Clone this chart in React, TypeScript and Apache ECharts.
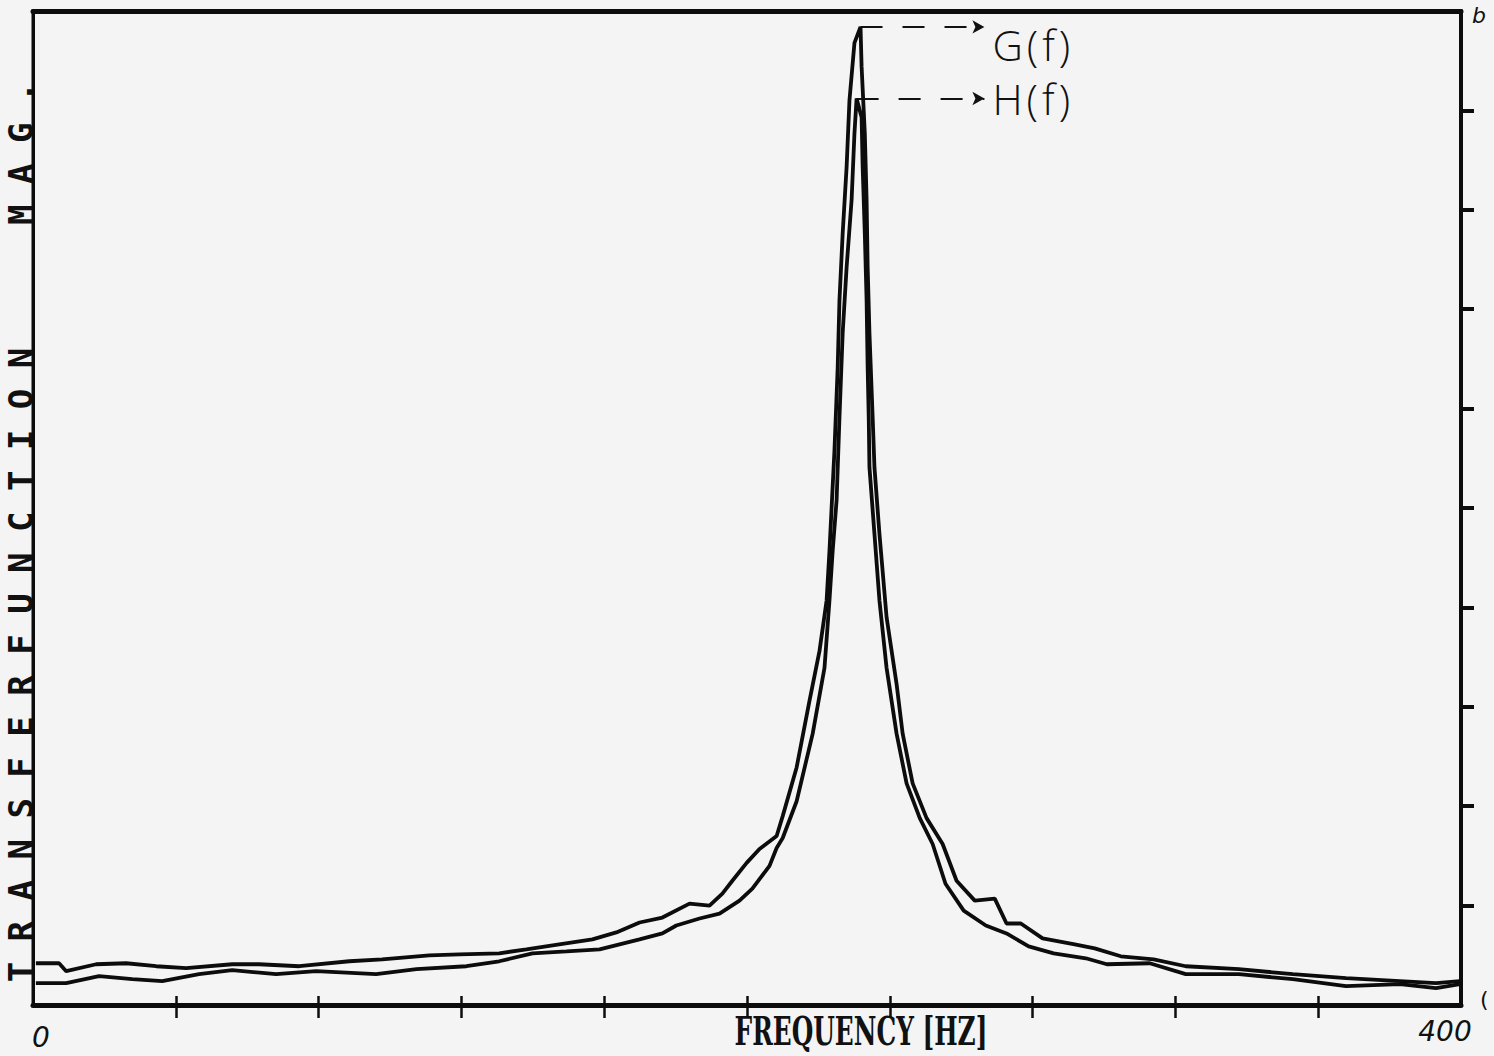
import React, { useEffect, useRef } from "react";
import * as echarts from "echarts";

// Frequency axis (Hz)
const xTickValues = [40, 80, 120, 160, 200, 240, 280, 320, 360];
const xLabelValues = [0, 400];
const yTickValues = [1, 2, 3, 4, 5, 6, 7, 8, 9];

// G(f) – higher peak
const gFreq = [0.8, 7.3, 9.3, 17.7, 26.1, 34.5, 42.9, 55.8, 63.3, 74.6, 88.6, 97.8, 111.0, 119.4, 130.6, 138.2, 147.4, 156.7, 163.4, 169.9, 176.3, 183.9, 189.5, 193.1, 195.9, 199.9, 203.5, 208.3, 210.0, 213.9, 217.5, 220.3, 222.3, 223.1, 224.5, 225.4, 225.9, 226.8, 227.9, 228.7, 230.1, 231.8, 232.1, 233.0, 233.5, 233.8, 234.3, 235.2, 235.7, 237.1, 239.1, 241.9, 243.6, 246.4, 250.3, 254.8, 258.7, 263.8, 269.4, 272.7, 276.7, 282.8, 291.8, 297.4, 304.7, 313.9, 322.9, 337.8, 352.9, 367.8, 382.9, 393.0, 399.7];
const gMag = [0.42, 0.42, 0.34, 0.41, 0.42, 0.39, 0.37, 0.41, 0.41, 0.39, 0.44, 0.46, 0.50, 0.51, 0.52, 0.56, 0.61, 0.66, 0.73, 0.83, 0.88, 1.02, 1.00, 1.12, 1.25, 1.43, 1.57, 1.70, 1.90, 2.39, 3.06, 3.56, 4.07, 4.57, 5.58, 6.41, 7.09, 7.76, 8.43, 9.10, 9.68, 9.84, 9.44, 8.77, 8.10, 7.42, 6.76, 5.91, 5.41, 4.74, 3.90, 3.23, 2.73, 2.23, 1.88, 1.62, 1.25, 1.05, 1.07, 0.82, 0.82, 0.67, 0.61, 0.57, 0.49, 0.46, 0.39, 0.36, 0.31, 0.27, 0.24, 0.22, 0.24];

// H(f) – lower peak
const hFreq = [0.8, 9.3, 18.5, 27.8, 36.2, 46.5, 55.8, 68.1, 79.3, 96.1, 107.4, 121.4, 130.6, 139.9, 149.4, 158.7, 169.9, 176.3, 180.2, 186.7, 192.3, 197.9, 201.5, 206.3, 208.3, 210.0, 213.9, 218.4, 221.7, 223.1, 224.0, 225.1, 225.9, 226.8, 227.9, 229.3, 230.1, 230.7, 232.1, 232.4, 233.0, 233.5, 233.8, 234.1, 234.3, 235.7, 237.1, 239.1, 241.9, 244.7, 248.4, 252.0, 255.6, 260.7, 266.9, 272.7, 278.9, 285.9, 294.9, 300.8, 312.8, 322.9, 337.8, 352.9, 367.8, 382.9, 393.0, 399.7];
const hMag = [0.22, 0.22, 0.29, 0.26, 0.24, 0.31, 0.35, 0.31, 0.34, 0.31, 0.36, 0.39, 0.44, 0.52, 0.54, 0.56, 0.66, 0.72, 0.80, 0.87, 0.92, 1.05, 1.17, 1.40, 1.58, 1.68, 2.05, 2.73, 3.39, 4.07, 4.57, 5.08, 5.91, 6.76, 7.42, 8.10, 8.77, 9.12, 8.93, 8.43, 7.76, 7.09, 6.41, 5.91, 5.41, 4.74, 4.07, 3.39, 2.73, 2.23, 1.88, 1.62, 1.22, 0.95, 0.80, 0.72, 0.59, 0.52, 0.47, 0.41, 0.42, 0.31, 0.31, 0.26, 0.19, 0.21, 0.17, 0.21];

const arrowEndFreq = 266.5;
const xTitle = "FREQUENCY [HZ]";
const yTitle = "T R A N S F E R F U N C T I O N      M A G .";

const INK = "#0c0c0c";
const BG = "#f4f4f4";

function peakIndex(arr: number[]) {
  let k = 0;
  arr.forEach((v, i) => {
    if (v > arr[k]) k = i;
  });
  return k;
}

// spaced hand-lettering: each character becomes its own rich token
function spaced(txt: string) {
  return txt
    .split("")
    .map((c) => `{c|${c}}`)
    .join("");
}

function buildOption() {
  const gp = peakIndex(gMag);
  const hp = peakIndex(hMag);
  const markLabel = (txt: string, dy: number) => ({
    show: true,
    position: "end",
    formatter: spaced(txt),
    distance: 6,
    offset: [0, dy],
    rich: {
      c: {
        color: "#111",
        fontFamily: "Open Sans",
        fontWeight: 300,
        fontSize: 42,
        padding: [0, 2, 0, 2],
      },
    },
  });
  const markLineStyle = { color: "#111", width: 2.2, type: [22, 20] };

  const baseAxis = {
    type: "value",
    min: 0,
    max: 400,
    interval: 40,
    splitLine: { show: false },
  };

  return {
    animation: false,
    backgroundColor: BG,
    grid: {
      left: 33,
      right: 33,
      top: 11,
      bottom: 51,
      show: true,
      borderColor: INK,
      borderWidth: 3,
      backgroundColor: "transparent",
    },
    xAxis: [
      {
        ...baseAxis,
        position: "bottom",
        axisLine: { show: true, onZero: false, lineStyle: { color: INK, width: 5 } },
        axisTick: {
          show: true,
          inside: true,
          length: 9,
          customValues: xTickValues,
          lineStyle: { color: INK, width: 2.5 },
        },
        axisLabel: {
          show: true,
          margin: 12,
          customValues: xLabelValues,
          formatter: (v: number) =>
            v === xLabelValues[0] ? `{l|${v}}` : v === xLabelValues[1] ? `{r|${v}}` : "",
          rich: {
            l: {
              fontSize: 28,
              fontStyle: "italic",
              fontFamily: "DejaVu Sans",
              color: "#111",
              padding: [6, 0, 0, 16],
            },
            r: {
              fontSize: 28,
              fontStyle: "italic",
              fontFamily: "DejaVu Sans",
              color: "#111",
              padding: [0, 32, 0, 0],
            },
          },
        },
      },
      {
        ...baseAxis,
        position: "bottom",
        axisLine: { show: false, onZero: false },
        axisTick: {
          show: true,
          inside: false,
          length: 13,
          customValues: xTickValues,
          lineStyle: { color: INK, width: 2.5 },
        },
        axisLabel: { show: false },
      },
      {
        ...baseAxis,
        position: "top",
        axisLine: { show: true, onZero: false, lineStyle: { color: INK, width: 5 } },
        axisTick: { show: false },
        axisLabel: { show: false },
      },
    ],
    yAxis: [
      {
        type: "value",
        min: 0,
        max: 10,
        interval: 1,
        position: "left",
        axisLine: { show: true, onZero: false, lineStyle: { color: INK, width: 3 } },
        axisTick: { show: false },
        axisLabel: { show: false },
        splitLine: { show: false },
      },
      {
        type: "value",
        min: 0,
        max: 10,
        interval: 1,
        position: "right",
        axisLine: { show: true, onZero: false, lineStyle: { color: INK, width: 4 } },
        axisTick: {
          show: true,
          inside: false,
          length: 13,
          customValues: yTickValues,
          lineStyle: { color: INK, width: 4 },
        },
        axisLabel: { show: false },
        splitLine: { show: false },
      },
    ],
    series: [
      {
        name: "G(f)",
        type: "line",
        xAxisIndex: 0,
        yAxisIndex: 0,
        data: gFreq.map((f, i) => [f, gMag[i]]),
        symbol: "none",
        showSymbol: false,
        lineStyle: { color: INK, width: 3.8 },
        z: 5,
        markLine: {
          silent: true,
          symbol: ["none", "arrow"],
          symbolSize: [10, 12],
          lineStyle: markLineStyle,
          label: markLabel("G(f)", 18),
          data: [[{ coord: [gFreq[gp], gMag[gp]] }, { coord: [arrowEndFreq, gMag[gp]] }]],
        },
      },
      {
        name: "H(f)",
        type: "line",
        xAxisIndex: 0,
        yAxisIndex: 0,
        data: hFreq.map((f, i) => [f, hMag[i]]),
        symbol: "none",
        showSymbol: false,
        lineStyle: { color: INK, width: 3.8 },
        z: 5,
        markLine: {
          silent: true,
          symbol: ["none", "arrow"],
          symbolSize: [10, 12],
          lineStyle: markLineStyle,
          label: markLabel("H(f)", 0),
          data: [[{ coord: [hFreq[hp], hMag[hp]] }, { coord: [arrowEndFreq, hMag[hp]] }]],
        },
      },
    ],
    graphic: [
      {
        type: "text",
        x: 21,
        y: 532,
        rotation: Math.PI / 2,
        style: {
          text: yTitle,
          x: 0,
          y: 0,
          align: "center",
          verticalAlign: "middle",
          fontFamily: "DejaVu Sans Mono",
          fontWeight: "bold",
          fontSize: 34,
          fill: "#111",
        },
      },
      {
        type: "text",
        x: 861,
        y: 1031,
        scaleX: 0.62,
        style: {
          text: xTitle,
          x: 0,
          y: 0,
          align: "center",
          verticalAlign: "middle",
          fontFamily: "DejaVu Serif",
          fontWeight: "bold",
          fontSize: 40,
          fill: "#111",
        },
      },
      {
        type: "text",
        x: 1472,
        y: 4,
        style: {
          text: "b",
          fontFamily: "DejaVu Sans",
          fontStyle: "italic",
          fontSize: 22,
          fill: "#111",
        },
      },
      {
        type: "text",
        x: 1480,
        y: 988,
        style: {
          text: "(",
          fontFamily: "DejaVu Sans",
          fontSize: 22,
          fill: "#111",
        },
      },
    ],
  };
}

export default function App() {
  const ref = useRef<HTMLDivElement>(null);
  useEffect(() => {
    document.body.style.margin = "0";
    document.body.style.background = BG;
    const chart = echarts.init(ref.current as HTMLDivElement, null, { renderer: "svg" });
    chart.setOption(buildOption() as any);
    return () => chart.dispose();
  }, []);
  return (
    <div
      ref={ref}
      style={{ position: "absolute", left: 0, top: 0, width: 1494, height: 1056 }}
    />
  );
}
